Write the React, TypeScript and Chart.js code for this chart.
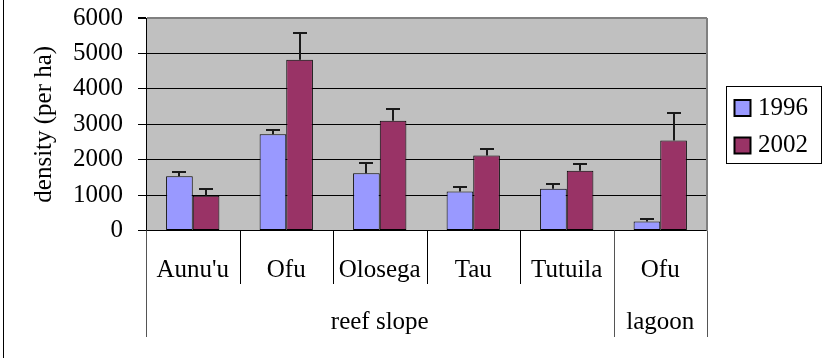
import React, { useEffect, useRef } from 'react';
import { Chart, registerables } from 'chart.js';

Chart.register(...registerables);

const categories = ["Aunu'u", 'Ofu', 'Olosega', 'Tau', 'Tutuila', 'Ofu'];
const groupLabels = ['reef slope', 'lagoon'];
const groupSpans = [5, 1];
const seriesNames = ['1996', '2002'];
const values1996 = [1530, 2720, 1620, 1100, 1180, 255];
const err1996 = [120, 130, 290, 130, 130, 75];
const values2002 = [980, 4820, 3100, 2120, 1690, 2540];
const err2002 = [200, 760, 340, 180, 180, 770];
const yMin = 0;
const yMax = 6000;
const yStep = 1000;
const yTitle = 'density (per ha)';

const FONT = 'Liberation Serif, Times New Roman, Tinos, DejaVu Serif, serif';
const FS = 25;

const errorsByDataset = [err1996, err2002];

const decorPlugin = {
  id: 'decor',
  beforeDraw(chart: any) {
    const { ctx, chartArea } = chart;
    ctx.save();
    ctx.fillStyle = '#C0C0C0';
    ctx.fillRect(chartArea.left, chartArea.top, chartArea.right - chartArea.left, chartArea.bottom - chartArea.top);
    ctx.restore();
  },
  afterDatasetsDraw(chart: any) {
    const { ctx } = chart;
    const yScale = chart.scales.y;
    ctx.save();
    ctx.strokeStyle = '#1a1a1a';
    ctx.lineWidth = 2;
    chart.data.datasets.forEach((ds: any, di: number) => {
      const meta = chart.getDatasetMeta(di);
      const errs = errorsByDataset[di];
      meta.data.forEach((bar: any, i: number) => {
        const v = ds.data[i];
        const top = Math.round(yScale.getPixelForValue(v + errs[i]));
        const x = Math.round(bar.x);
        ctx.beginPath();
        ctx.moveTo(x, bar.y);
        ctx.lineTo(x, top);
        ctx.moveTo(x - 7, top);
        ctx.lineTo(x + 7, top);
        ctx.stroke();
      });
    });
    ctx.restore();
  },
  afterDraw(chart: any) {
    const { ctx, chartArea } = chart;
    const xScale = chart.scales.x;
    ctx.save();
    ctx.strokeStyle = '#000';
    ctx.lineWidth = 1;
    ctx.beginPath();
    ctx.moveTo(3.5, 0);
    ctx.lineTo(3.5, 358);
    ctx.stroke();
    ctx.strokeStyle = '#808080';
    ctx.lineWidth = 2;
    ctx.beginPath();
    ctx.moveTo(Math.round(chartArea.right), chartArea.top);
    ctx.lineTo(Math.round(chartArea.right), chartArea.bottom);
    ctx.stroke();

    const n = categories.length;
    const bounds: number[] = [];
    for (let i = 0; i <= n; i++) {
      if (i === 0) bounds.push(chartArea.left);
      else if (i === n) bounds.push(chartArea.right);
      else bounds.push((xScale.getPixelForValue(i - 1) + xScale.getPixelForValue(i)) / 2);
    }
    const groupEdges = new Set<number>();
    let acc = 0;
    groupEdges.add(0);
    groupSpans.forEach((s) => { acc += s; groupEdges.add(acc); });

    ctx.lineWidth = 1;
    bounds.forEach((bx, i) => {
      const x = Math.round(bx) + 0.5;
      const isGroup = groupEdges.has(i);
      ctx.strokeStyle = isGroup ? '#555' : '#000';
      ctx.beginPath();
      ctx.moveTo(x, chartArea.bottom);
      ctx.lineTo(x, isGroup ? 337 : 284);
      ctx.stroke();
    });

    ctx.fillStyle = '#000';
    ctx.font = `${FS}px ${FONT}`;
    ctx.textAlign = 'center';
    ctx.textBaseline = 'middle';
    categories.forEach((c, i) => {
      ctx.fillText(c, (bounds[i] + bounds[i + 1]) / 2, 270);
    });
    let start = 0;
    groupLabels.forEach((g, gi) => {
      const end = start + groupSpans[gi];
      ctx.fillText(g, (bounds[start] + bounds[end]) / 2, 322);
      start = end;
    });

    const lx = 726, ly = 86, lw = 95, lh = 77;
    ctx.strokeStyle = '#000';
    ctx.lineWidth = 1;
    ctx.strokeRect(lx + 0.5, ly + 0.5, lw, lh);
    ctx.textAlign = 'left';
    chart.data.datasets.forEach((ds: any, di: number) => {
      const cy = 108 + di * 37.5;
      ctx.fillStyle = ds.backgroundColor;
      ctx.fillRect(734.5, cy - 8, 16, 16);
      ctx.strokeStyle = '#000';
      ctx.lineWidth = 2;
      ctx.strokeRect(734.5, cy - 8, 16, 16);
      ctx.fillStyle = '#000';
      ctx.fillText(ds.label, 758, cy);
    });
    ctx.restore();
  },
};

export default function App() {
  const ref = useRef<HTMLCanvasElement | null>(null);
  useEffect(() => {
    if (!ref.current) return;
    const chart = new Chart(ref.current, {
      type: 'bar',
      data: {
        labels: categories,
        datasets: [
          {
            label: seriesNames[0],
            data: values1996,
            backgroundColor: '#9999FF',
            borderColor: '#000',
            borderWidth: 1,
            borderSkipped: false,
            categoryPercentage: 0.57,
            barPercentage: 1,
          },
          {
            label: seriesNames[1],
            data: values2002,
            backgroundColor: '#993366',
            borderColor: '#000',
            borderWidth: 1,
            borderSkipped: false,
            categoryPercentage: 0.57,
            barPercentage: 1,
          },
        ],
      },
      options: {
        animation: false,
        responsive: true,
        maintainAspectRatio: false,
        layout: { padding: { top: 18, right: 118, bottom: 0, left: 0 } },
        plugins: { legend: { display: false }, tooltip: { enabled: false } },
        scales: {
          x: {
            ticks: { display: false },
            grid: { display: false, drawTicks: false },
            border: { display: false },
            afterFit: (s: any) => { s.height = 127.5; s.paddingLeft = 0; s.paddingRight = 0; },
          },
          y: {
            min: yMin,
            max: yMax,
            ticks: {
              stepSize: yStep,
              color: '#000',
              font: { family: FONT, size: FS },
              padding: 15,
              callback: (v: any) => String(v),
            },
            grid: {
              color: (c: any) => (c.tick && c.tick.value === yMax ? '#808080' : '#000'),
              lineWidth: (c: any) => (c.tick && c.tick.value === yMax ? 2 : 1),
              tickColor: '#000',
              tickLength: 8,
              drawTicks: true,
            },
            border: { display: true, color: '#000', width: 1 },
            title: {
              display: true,
              text: yTitle,
              color: '#000',
              font: { family: FONT, size: FS },
              padding: { top: 29, bottom: 0 },
            },
            afterFit: (s: any) => { s.width = 146; s.paddingTop = 0; s.paddingBottom = 0; },
          },
        },
      },
      plugins: [decorPlugin],
    });
    return () => chart.destroy();
  }, []);
  return (
    <div style={{ position: 'absolute', left: 0, top: 0, width: 825, height: 358 }}>
      <canvas ref={ref} />
    </div>
  );
}
